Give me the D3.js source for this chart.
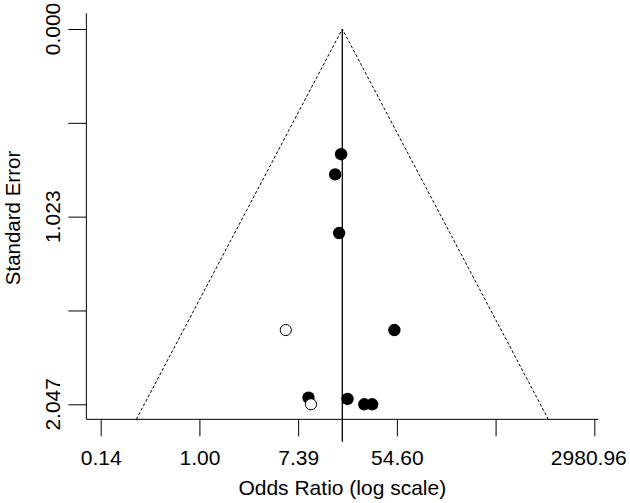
<!DOCTYPE html>
<html>
<head>
<meta charset="utf-8">
<script src="https://cdn.jsdelivr.net/npm/d3@7"></script>
<style>
  body { margin: 0; background: #fff; }
  text { font-family: "Liberation Sans", Arial, sans-serif; fill: #000; }
</style>
</head>
<body>
<svg></svg>
<script>
const size = {w: 630, h: 503};
const svg = d3.select('svg').attr('width', size.w).attr('height', size.h);

// log odds ratio and standard error of each study
const logOR = [2.87, 2.75, 2.83, 1.75, 3.95, 2.21, 2.26, 3.00, 3.34, 3.50];
const stdErr = [0.683, 0.793, 1.113, 1.642, 1.642, 2.011, 2.047, 2.018, 2.047, 2.047];
const filled = [false, false, false, true, false, false, true, false, false, false];
const estimate = 2.895;

const xTicks = [-2, 0, 2, 4, 6, 8];
const xTickLabels = ['0.14', '1.00', '7.39', '54.60', '', '2980.96'];
const yTicks = [0, 0.51175, 1.0235, 1.53525, 2.047];
const yTickLabels = ['0.000', '', '1.023', '', '2.047'];

// plot region limits
const xLim = [-2.29, 8.08];
const yLim = [-0.0856, 2.129];

const x = d3.scaleLinear().domain([-2, 8]).range([100.7, 594.3]);
const y = d3.scaleLinear().domain([0, 2.047]).range([29, 404.3]);

const fontSize = '21px';
const g = svg.append('g');

// funnel
const seMax = yLim[1];
g.append('path')
    .attr('d', d3.line()([
        [x(estimate - 1.96 * seMax), y(seMax)],
        [x(estimate), y(0)],
        [x(estimate + 1.96 * seMax), y(seMax)]
    ]))
    .attr('fill', 'none')
    .attr('stroke', '#000')
    .attr('stroke-width', 1)
    .attr('stroke-dasharray', '3,2');

// reference line
g.append('line')
    .attr('x1', x(estimate)).attr('x2', x(estimate))
    .attr('y1', y(0)).attr('y2', y(yLim[1]) + 22.5)
    .attr('stroke', '#000').attr('stroke-width', 1.3);

// axes
const axisX = d3.axisBottom(x)
    .tickValues(xTicks)
    .tickFormat((d, i) => xTickLabels[i])
    .tickSize(17)
    .tickSizeOuter(0)
    .tickPadding(14);

const axisXG = svg.append('g')
    .attr('transform', `translate(0, ${y(yLim[1])})`)
    .call(axisX);
axisXG.select('.domain').remove();
axisXG.append('line')
    .attr('x1', x(xLim[0])).attr('x2', x(xLim[1]))
    .attr('stroke', '#000');
axisXG.selectAll('text').style('font-size', fontSize)
    .style('font-family', '"Liberation Sans", Arial, sans-serif').attr('fill', '#000');
// last label is pushed in so it stays on the page
axisXG.selectAll('.tick text').filter(d => d === 8).attr('dx', -6);

const axisY = d3.axisLeft(y)
    .tickValues(yTicks)
    .tickFormat('')
    .tickSize(18)
    .tickSizeOuter(0);

const axisYG = svg.append('g')
    .attr('transform', `translate(${x(xLim[0])}, 0)`)
    .call(axisY);
axisYG.select('.domain').remove();
axisYG.append('line')
    .attr('y1', y(yLim[0])).attr('y2', y(yLim[1]))
    .attr('stroke', '#000');

svg.selectAll('.yLabel')
    .data(yTicks)
    .join('text')
    .classed('yLabel', true)
    .attr('transform', d => `translate(60, ${y(d)}) rotate(-90)`)
    .attr('text-anchor', 'middle')
    .style('font-size', fontSize)
    .text((d, i) => yTickLabels[i]);

// axis titles
svg.append('text')
    .attr('transform', `translate(20, 218) rotate(-90)`)
    .attr('text-anchor', 'middle')
    .style('font-size', '20.5px')
    .text('Standard Error');

svg.append('text')
    .attr('x', (x(xLim[0]) + x(xLim[1])) / 2)
    .attr('y', 495)
    .attr('text-anchor', 'middle')
    .style('font-size', fontSize)
    .text('Odds Ratio (log scale)');

// studies
const points = logOR.map((d, i) => ({lor: d, se: stdErr[i], filled: filled[i]}));
g.selectAll('.dots')
    .data(points)
    .join('circle')
    .classed('dots', true)
    .attr('cx', d => x(d.lor))
    .attr('cy', d => y(d.se))
    .attr('r', d => d.filled ? 5.6 : 6.2)
    .attr('fill', d => d.filled ? '#fff' : '#000')
    .attr('stroke', '#000')
    .attr('stroke-width', d => d.filled ? 1 : 0);
</script>
</body>
</html>
